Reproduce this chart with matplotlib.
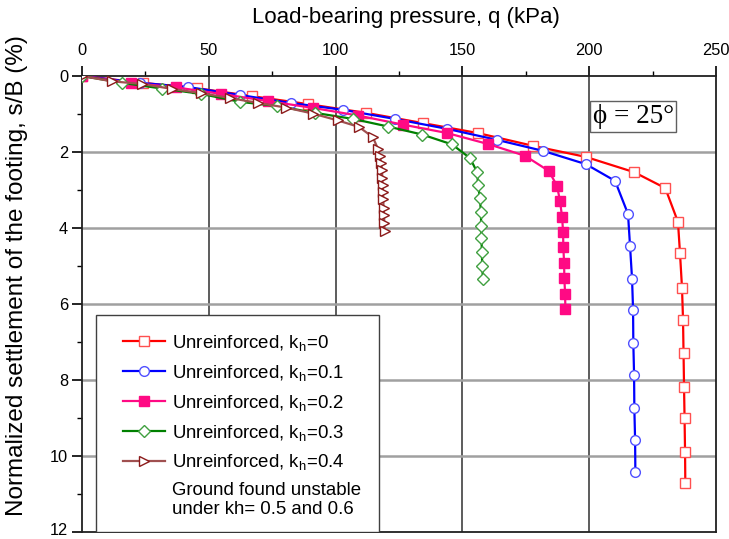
import matplotlib
matplotlib.use("Agg")
import matplotlib.pyplot as plt
import matplotlib.transforms as mtransforms
from matplotlib.lines import Line2D
from matplotlib.patches import Rectangle
from matplotlib.ticker import MultipleLocator

plt.rcParams['font.family'] = ['Liberation Sans', 'DejaVu Sans']
plt.rcParams['mathtext.fontset'] = 'custom'
plt.rcParams['mathtext.rm'] = 'Liberation Sans'
plt.rcParams['mathtext.it'] = 'Liberation Sans'

# ---- data (q in kPa, s/B in %) ----
q_kh0 = [0, 24.0, 45.3, 67.0, 89.1, 112.0, 134.5, 156.0, 178.0, 198.7, 217.7, 230.0,
         235.0, 235.8, 236.6, 237.0, 237.2, 237.4, 237.6, 237.8, 237.9]
s_kh0 = [0, 0.18, 0.32, 0.53, 0.74, 0.97, 1.24, 1.50, 1.84, 2.13, 2.53, 2.95,
         3.84, 4.66, 5.58, 6.42, 7.29, 8.18, 9.00, 9.89, 10.70]

q_kh01 = [0, 22.9, 41.8, 62.3, 82.4, 102.9, 123.4, 143.9, 163.6, 181.8, 198.7, 210.2,
          215.3, 216.1, 216.9, 217.3, 217.4, 217.7, 217.8, 218.1, 218.2]
s_kh01 = [0, 0.18, 0.29, 0.50, 0.71, 0.89, 1.13, 1.39, 1.68, 1.97, 2.32, 2.76,
          3.63, 4.47, 5.34, 6.16, 7.03, 7.87, 8.74, 9.58, 10.42]

q_kh02 = [0, 19.3, 37.1, 54.8, 73.3, 91.1, 108.8, 126.6, 143.9, 160.1, 174.7, 184.1,
          187.3, 188.5, 189.3, 189.7, 189.8, 190.1, 190.2, 190.5, 190.6]
s_kh02 = [0, 0.18, 0.30, 0.47, 0.66, 0.84, 1.04, 1.28, 1.50, 1.79, 2.10, 2.50,
          2.89, 3.29, 3.71, 4.10, 4.50, 4.92, 5.32, 5.74, 6.13]

q_kh03 = [0, 15.8, 31.5, 46.9, 62.3, 76.9, 91.9, 106.9, 120.7, 134.1, 145.9, 153.0,
          155.8, 156.2, 156.9, 157.3, 157.4, 157.5, 157.7, 157.8, 158.1]
s_kh03 = [0, 0.18, 0.33, 0.47, 0.68, 0.79, 0.97, 1.13, 1.33, 1.54, 1.80, 2.16,
          2.53, 2.87, 3.21, 3.58, 3.95, 4.26, 4.63, 5.00, 5.34]

q_kh04 = [0, 11.8, 23.7, 35.5, 46.9, 58.4, 69.4, 80.4, 91.1, 100.9, 109.2, 114.7,
          116.7, 117.5, 117.9, 118.3, 118.4, 118.5, 118.7, 118.8, 118.9, 119.1, 119.2, 119.3]
s_kh04 = [0, 0.14, 0.21, 0.34, 0.45, 0.58, 0.71, 0.83, 0.99, 1.17, 1.34, 1.61,
          1.92, 2.11, 2.29, 2.47, 2.68, 2.87, 3.05, 3.24, 3.47, 3.66, 3.87, 4.08]

labels = [r'Unreinforced, k$_{\mathregular{h}}$=0',
          r'Unreinforced, k$_{\mathregular{h}}$=0.1',
          r'Unreinforced, k$_{\mathregular{h}}$=0.2',
          r'Unreinforced, k$_{\mathregular{h}}$=0.3',
          r'Unreinforced, k$_{\mathregular{h}}$=0.4']
note = 'Ground found unstable\nunder kh= 0.5 and 0.6'
phi_text = 'ϕ = 25°'
xlabel = 'Load-bearing pressure, q (kPa)'
ylabel = 'Normalized settlement of the footing, s/B (%)'

W, H = 729, 539
fig = plt.figure(figsize=(W/100, H/100), dpi=100)
ax = fig.add_axes([82/W, 1-532/H, (716-82)/W, (532-76)/H])

ax.plot(q_kh0, s_kh0, color='#FF0000', lw=1.6, marker='s', ms=6.5,
        mfc='white', mec='#FF5050', mew=1.0, label=labels[0], zorder=5)
ax.plot(q_kh01, s_kh01, color='#0000FF', lw=1.6, marker='o', ms=7,
        mfc='white', mec='#5050FF', mew=1.0, label=labels[1], zorder=5)
ax.plot(q_kh02, s_kh02, color='#FF0A84', lw=1.6, marker='s', ms=6.5,
        mfc='#FF0A84', mec='#FF0A84', mew=1.0, label=labels[2], zorder=5)
ax.plot(q_kh03, s_kh03, color='#008000', lw=1.6, marker='D', ms=6,
        mfc='white', mec='#40A040', mew=1.0, label=labels[3], zorder=5)
ax.plot(q_kh04, s_kh04, color='#A05050', lw=1.6, marker='>', ms=7.5,
        mfc='white', mec='#8B1A1A', mew=1.0, label=labels[4], zorder=5)

ax.set_xlim(0, 250)
ax.set_ylim(12, 0)
ax.xaxis.set_major_locator(MultipleLocator(50))
ax.xaxis.set_minor_locator(MultipleLocator(25))
ax.yaxis.set_major_locator(MultipleLocator(2))
ax.yaxis.set_minor_locator(MultipleLocator(1))
ax.xaxis.tick_top()
ax.tick_params(which='major', direction='out', length=7, width=1.2,
               labelsize=11.8, color='black', pad=3)
ax.tick_params(which='minor', direction='out', length=3.5, width=1.0)
ax.tick_params(axis='x', which='both', top=True, bottom=False)
ax.tick_params(axis='x', which='major', pad=6)

for v in [50, 100, 150, 200]:
    ax.axvline(v, color='#303030', lw=1.1, zorder=1)
for v in [2, 4, 6, 8, 10]:
    ax.axhline(v, color='#A0A0A0', lw=1.8, zorder=1)

for sp in ax.spines.values():
    sp.set_linewidth(1.3)
    sp.set_color('#202020')

# keep the bottom "12" label inside the canvas
fig.canvas.draw()
ytl = ax.get_yticklabels()
last = [t for t in ytl if t.get_text() == '12']
for t in last:
    t.set_transform(t.get_transform() +
                    mtransforms.ScaledTranslation(0, 2.5/72, fig.dpi_scale_trans))

fig.text(406/W, 1-18/H, xlabel, fontsize=16, ha='center', va='center')
fig.text(17/W, 1-276/H, ylabel, fontsize=17.5, rotation=90, ha='center', va='center')

ax.text(217.3, 1.07, phi_text, family=['Liberation Serif', 'DejaVu Serif'],
        fontsize=19.5, ha='center', va='center', zorder=6,
        bbox=dict(boxstyle='square,pad=0.1', fc='white', ec='#606060', lw=1.0))

# legend box (frame drawn separately, entries via legend)
def ax_frac(px, py):
    return ((px-82)/(716-82), 1-(py-76)/(532-76))
x0, y0 = ax_frac(96, 532)
x1, y1 = ax_frac(379, 315)
ax.add_patch(Rectangle((x0, y0), x1-x0, y1-y0, transform=ax.transAxes,
                       fc='white', ec='#404040', lw=1.0, zorder=9))

handles, labs = ax.get_legend_handles_labels()
handles.append(Line2D([], [], linestyle='none', marker=None))
labs.append(note)
lx, ly = ax_frac(123, 333)
leg = ax.legend(handles, labs, loc='upper left', bbox_to_anchor=(lx, ly),
                fontsize=13.4, frameon=False, handlelength=2.26, handletextpad=0.38,
                labelspacing=0.53, borderpad=0, borderaxespad=0)
leg.set_zorder(10)
for t in leg.get_texts():
    t.set_linespacing(1.13)

fig.savefig('out.png', dpi=100)
